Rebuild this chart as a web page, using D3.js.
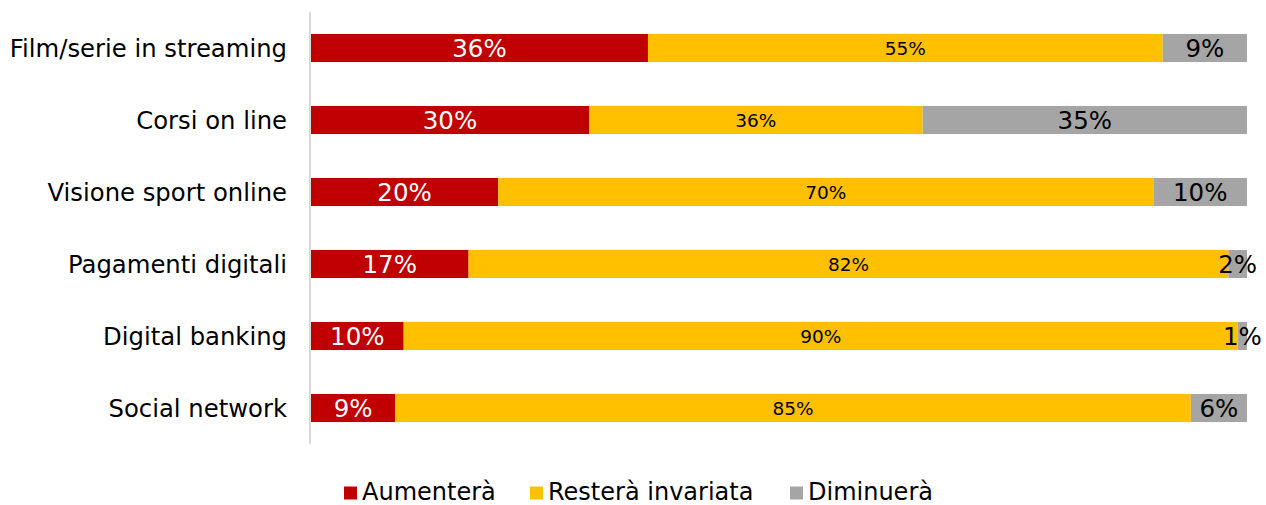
<!DOCTYPE html>
<html>
<head>
<meta charset="utf-8">
<script src="https://cdn.jsdelivr.net/npm/d3@7"></script>
<style>
  html, body { margin: 0; padding: 0; background: #fff; }
  svg { display: block; font-family: "DejaVu Sans", Verdana, sans-serif; }
</style>
</head>
<body>
<svg id="chart" width="1266" height="505"></svg>
<script>
// Categories, top to bottom
const categories = [
  "Film/serie in streaming",
  "Corsi on line",
  "Visione sport online",
  "Pagamenti digitali ",
  "Digital banking",
  "Social network"
];

// Series (percentages)
const seriesNames = ["Aumenterà", "Resterà invariata", "Diminuerà"];
const aumentera  = [36, 30, 20, 17, 10, 9];
const invariata  = [55, 36, 70, 82, 90, 85];
const diminuera  = [9, 35, 10, 2, 1, 6];

const colors = ["#C00000", "#FFC000", "#A5A5A5"];
const labelColors = ["#ffffff", "#000000", "#000000"];
const labelSizes = [24.5, 18.5, 24.5];

const rows = categories.map((c, i) => ({
  cat: c,
  "Aumenterà": aumentera[i],
  "Resterà invariata": invariata[i],
  "Diminuerà": diminuera[i]
}));

const svg = d3.select("#chart");
const margin = { left: 311, right: 19, top: 12, bottom: 61 };
const W = 1266, H = 505;

const x = d3.scaleLinear().domain([0, 1]).range([margin.left, W - margin.right]);
const y = d3.scaleBand().domain(categories).range([margin.top, H - margin.bottom]).paddingInner(0.61).paddingOuter(0.305);

// Each row is normalised to 100%
const stack = d3.stack().keys(seriesNames).offset(d3.stackOffsetExpand);
const stacked = stack(rows);

// Bars
const groups = svg.append("g").selectAll("g").data(stacked).join("g")
  .attr("fill", (d, i) => colors[i]);

groups.selectAll("rect").data(d => d).join("rect")
  .attr("x", d => x(d[0]))
  .attr("y", d => y(d.data.cat))
  .attr("width", d => x(d[1]) - x(d[0]))
  .attr("height", y.bandwidth());

// Value labels, centred in each segment
stacked.forEach((s, si) => {
  svg.append("g").selectAll("text").data(s).join("text")
    .attr("x", d => (x(d[0]) + x(d[1])) / 2)
    .attr("y", d => y(d.data.cat) + y.bandwidth() / 2)
    .attr("dy", "0.36em")
    .attr("text-anchor", "middle")
    .attr("fill", labelColors[si])
    .attr("font-size", labelSizes[si])
    .text(d => d.data[s.key] + "%");
});

// Category axis
const axis = svg.append("g")
  .attr("transform", `translate(${margin.left - 1},0)`)
  .call(d3.axisLeft(y).tickSize(0).tickPadding(23));
axis.select(".domain").attr("stroke", "#d9d9d9").attr("stroke-width", 2)
  .attr("d", `M0,${margin.top}V${H - margin.bottom}`);
axis.selectAll("text").attr("font-size", 24.3).attr("fill", "#000")
  .attr("font-family", "DejaVu Sans, Verdana, sans-serif").attr("dy", "0.36em");

// Legend
const legendItems = [
  { name: seriesNames[0], x: 344 },
  { name: seriesNames[1], x: 530 },
  { name: seriesNames[2], x: 790 }
];
const lg = svg.append("g").selectAll("g").data(legendItems).join("g")
  .attr("transform", d => `translate(${d.x},486.5)`);
lg.append("rect").attr("width", 13).attr("height", 13)
  .attr("fill", (d, i) => colors[i]);
lg.append("text").attr("x", 18).attr("y", 13)
  .attr("font-size", 24).attr("fill", "#000").text(d => d.name);
</script>
</body>
</html>
